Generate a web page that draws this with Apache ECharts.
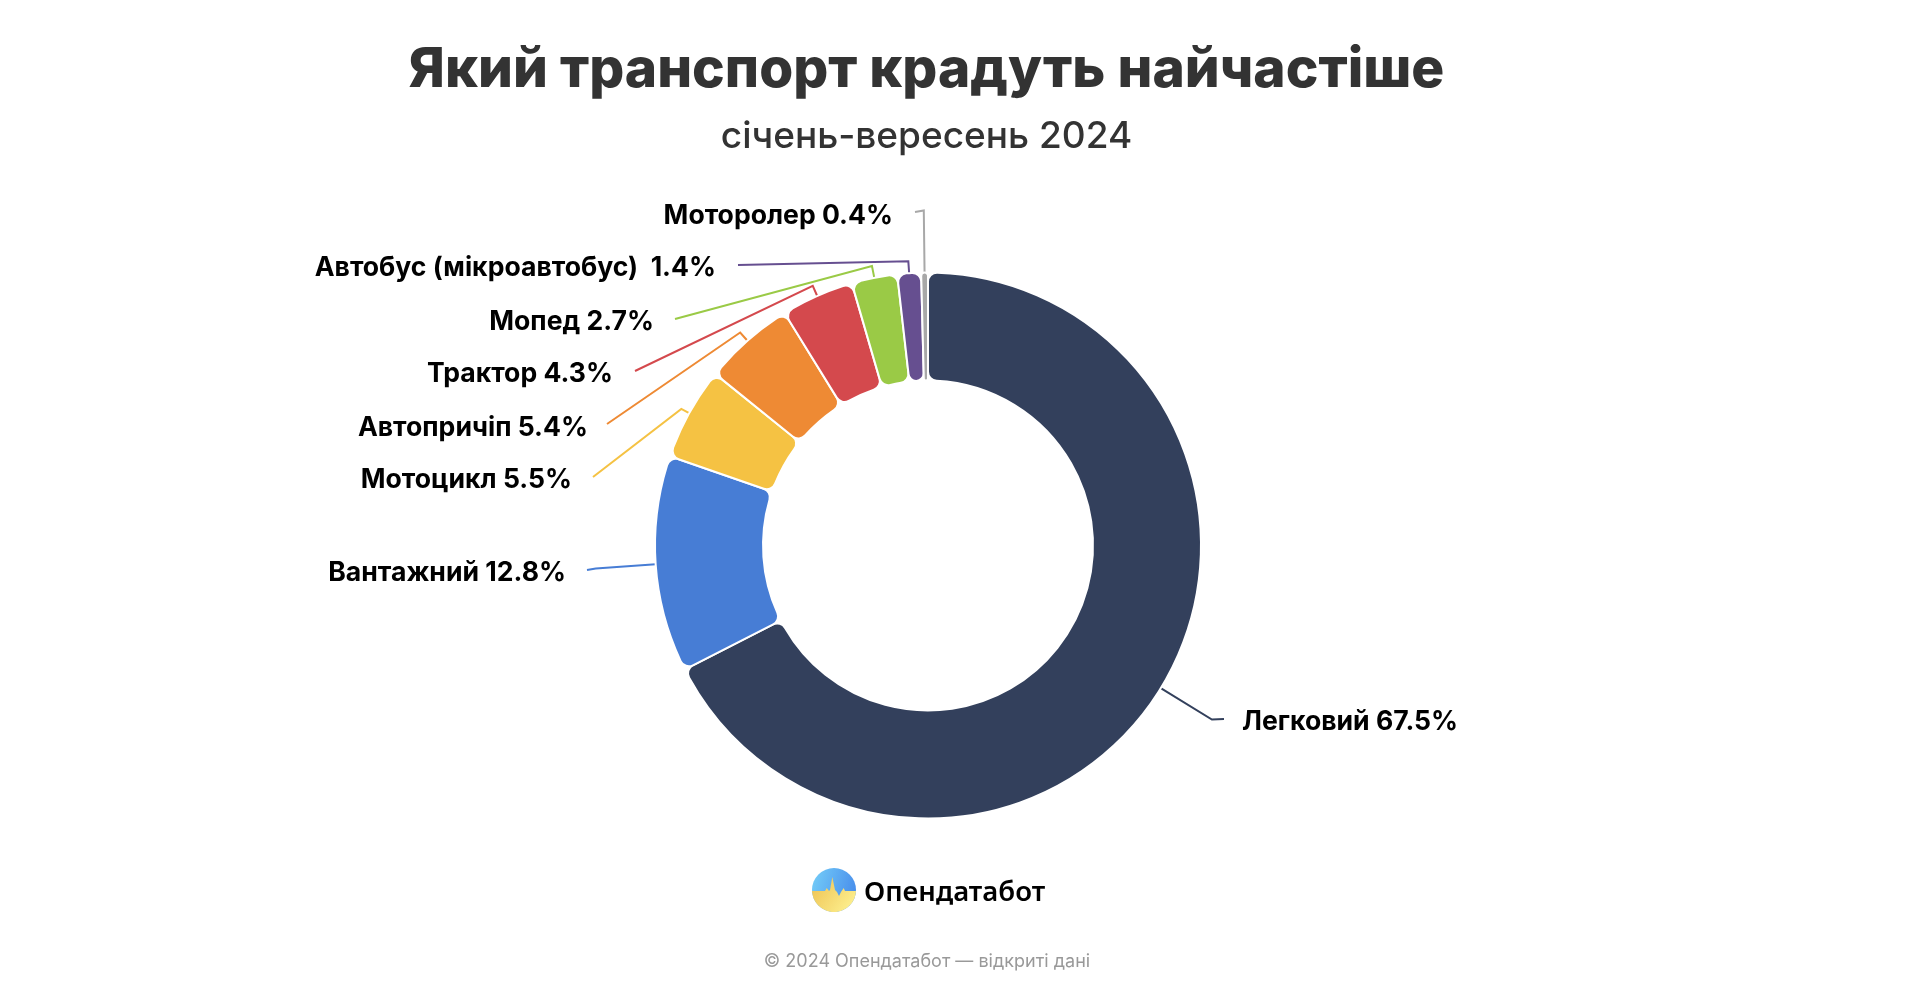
<!DOCTYPE html>
<html><head><meta charset="utf-8">
<style>html,body{margin:0;padding:0;background:#fff}#c{width:1928px;height:988px}</style>
<script src="https://cdn.jsdelivr.net/npm/echarts@6/dist/echarts.min.js"></script>
</head><body><div id="c"></div>
<script>
const categories=['Легковий','Вантажний','Мотоцикл','Автопричіп','Трактор','Мопед','Автобус (мікроавтобус) ','Моторолер'];
const values=[67.5,12.8,5.5,5.4,4.3,2.7,1.4,0.4];
const colors=['#33405c','#477dd5','#f5c243','#ee8a34','#d4494d','#9aca46','#664f90','#a8a8a8'];
// label layout (px)
const lineEndX=[1224,587,593,607,635,675,738,915];
const lineEndY=[719,570,477,424,371,319,265,212];
const elbowLen=[60,60,9,11,11,12,12,62];
const labelX=[1242,566,572,588,613,654,716,893];
const labelY=[722,573,480,428,374,322,268,216];
const alignSide=['left','right','right','right','right','right','right','right'];

// logo skyline (decoration, local px)
const logoPeak=[[0,23],[13,23],[14.7,20],[17,23],[18,22],[20.3,9],[23,22],[25,24],[27,28],[29,24],[31.7,20],[33,23],[44,23]];
const logoArc=[];
for(let a=0;a<=180;a+=6){logoArc.push([22+22*Math.cos(a*Math.PI/180),22+22*Math.sin(a*Math.PI/180)]);}

const chart=echarts.init(document.getElementById('c'),null,{renderer:'canvas'});
const FONT='Inter';
chart.setOption({
  animation:false,
  backgroundColor:'#fff',
  title:[
    {text:'Який транспорт крадуть найчастіше',left:926.5,top:70.5,padding:0,textAlign:'center',textVerticalAlign:'middle',
     textStyle:{fontFamily:FONT,fontWeight:800,fontSize:55,color:'#333'}},
    {text:'січень-вересень 2024',left:926.5,top:137,padding:0,textAlign:'center',textVerticalAlign:'middle',
     textStyle:{fontFamily:FONT,fontWeight:500,fontSize:37,color:'#333'}},
    {text:'© 2024 Опендатабот — відкриті дані',left:927,top:962,padding:0,textAlign:'center',textVerticalAlign:'middle',
     textStyle:{fontFamily:FONT,fontWeight:400,fontSize:18,color:'#999'}}
  ],
  series:[{
    type:'pie',
    startAngle:90,
    center:[928,545.5],
    radius:[165,273],
    avoidLabelOverlap:false,
    itemStyle:{borderColor:'#fff',borderWidth:2,borderRadius:9},
    label:{show:true,position:'outside',formatter:'{b} {c}%',fontFamily:FONT,fontWeight:700,fontSize:26.6,color:'#000'},
    labelLine:{show:true,length:10,length2:10,lineStyle:{width:2}},
    data:categories.map((n,i)=>({name:n,value:values[i],itemStyle:{color:colors[i]},
      labelLine:{length:elbowLen[i]}})),
    labelLayout:function(p){
      const i=p.dataIndex;
      const pts=p.labelLinePoints;
      return {x:labelX[i],y:labelY[i],align:alignSide[i],verticalAlign:'middle',hideOverlap:false,moveOverlap:false,
        labelLinePoints:[pts[0],pts[1],[lineEndX[i],lineEndY[i]]]};
    }
  }],
  graphic:[
    {type:'group',left:812,top:868,children:[
      {type:'circle',shape:{cx:22,cy:22,r:22},style:{fill:new echarts.graphic.LinearGradient(0,0.1,1,0.4,[
        {offset:0,color:'#74cdf8'},{offset:1,color:'#4a90ec'}])}},
      {type:'polygon',shape:{points:logoPeak.concat(logoArc)},style:{fill:new echarts.graphic.LinearGradient(0.1,0.3,0.85,1,[
        {offset:0,color:'#f0c95c'},{offset:1,color:'#fdf08f'}])}}
    ]},
    {type:'text',left:864,top:879,style:{text:'Опендатабот',fontFamily:'Noto Sans',fontWeight:600,fontSize:27.5,fill:'#000'}}
  ]
});
</script></body></html>
